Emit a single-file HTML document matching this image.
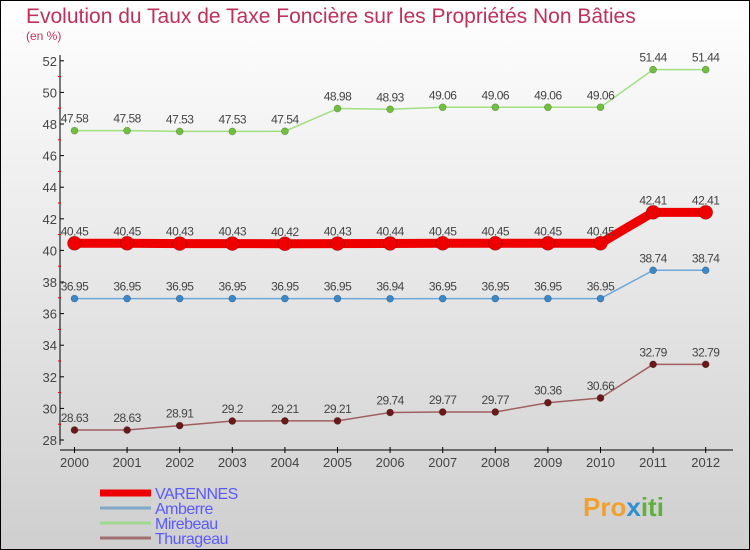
<!DOCTYPE html>
<html><head><meta charset="utf-8"><style>
body{margin:0}
#c{width:750px;height:550px;position:relative;overflow:hidden;font-family:"Liberation Sans","DejaVu Sans",sans-serif}
</style></head><body>
<div id="c">
<svg id="s" width="750" height="550" xmlns="http://www.w3.org/2000/svg">
<defs><linearGradient id="bg" x1="0" y1="0" x2="0" y2="1"><stop offset="0" stop-color="#ffffff"/><stop offset="1" stop-color="#cfcfcf"/></linearGradient></defs>
<rect x="0.5" y="0.5" width="749" height="549" fill="url(#bg)" stroke="#000"/>
<text x="26" y="23" font-size="21" fill="#c0305a">Evolution du Taux de Taxe Foncière sur les Propriétés Non Bâties</text>
<text x="26" y="40" font-size="12" fill="#c0305a">(en %)</text>
<g id="axes"></g><g id="series"></g><g id="legend"></g>
<text x="583" y="516" font-size="26" font-weight="bold" fill="#f0a030">Pro<tspan fill="#3090d0">x</tspan><tspan fill="#60b040">iti</tspan></text>
</svg></div>
<script>
const years=["2000","2001","2002","2003","2004","2005","2006","2007","2008","2009","2010","2011","2012"];
const yTicks=[28,30,32,34,36,38,40,42,44,46,48,50,52];
const varennes=[40.45,40.45,40.43,40.43,40.42,40.43,40.44,40.45,40.45,40.45,40.45,42.41,42.41];
const amberre=[36.95,36.95,36.95,36.95,36.95,36.95,36.94,36.95,36.95,36.95,36.95,38.74,38.74];
const mirebeau=[47.58,47.58,47.53,47.53,47.54,48.98,48.93,49.06,49.06,49.06,49.06,51.44,51.44];
const thurageau=[28.63,28.63,28.91,29.2,29.21,29.21,29.74,29.77,29.77,30.36,30.66,32.79,32.79];
const NS="http://www.w3.org/2000/svg";
function X(i){return 74.5+i*52.6;}
function Y(v){return 440-(v-28)*15.8;}
function mk(t,a,p){const e=document.createElementNS(NS,t);for(const k in a)e.setAttribute(k,a[k]);p.appendChild(e);return e;}
const ax=document.getElementById('axes');
let l=mk('line',{x1:60,y1:55,x2:60,y2:445,stroke:'#000'},ax);


l=mk('line',{x1:60,y1:450,x2:733,y2:450,stroke:'#000'},ax);


yTicks.forEach((t,i)=>{const y=Y(t);mk('line',{x1:60,y1:y,x2:64,y2:y,stroke:'#000'},ax);
 if(i<yTicks.length-1)mk('line',{x1:58,y1:Y(t+1),x2:61,y2:Y(t+1),stroke:'#e00'},ax);
 const tx=mk('text',{x:57,y:y+5,'text-anchor':'end','font-size':13,fill:'#444'},ax);tx.textContent=t;
 
 });
years.forEach((yr,i)=>{mk('line',{x1:X(i),y1:447,x2:X(i),y2:453,stroke:'#000'},ax);
 const tx=mk('text',{x:X(i),y:467,'text-anchor':'middle','font-size':13,fill:'#444'},ax);tx.textContent=yr;
 
 });
const sg=document.getElementById('series');
function series(name,vals,color,lw,r,dot){
 const g=mk('g',{},sg);
 
 
 mk('polyline',{points:vals.map((v,i)=>X(i)+','+Y(v)).join(' '),fill:'none',stroke:color,'stroke-width':lw,'stroke-linejoin':'round'},g);
 vals.forEach((v,i)=>{const c=mk('circle',{cx:X(i),cy:Y(v),r:r,fill:dot,stroke:'rgba(0,0,0,0.3)','stroke-width':0.6},g);
  
  
  const t=mk('text',{x:X(i),y:Y(v)-8,'text-anchor':'middle','font-size':12,fill:'#444','letter-spacing':'-0.5'},g);t.textContent=v;
  
  });
}
series('mirebeau',mirebeau,'#a0e080',1.5,3.5,'#70c040');
series('amberre',amberre,'#70a8d8',1.5,3.5,'#3a88c8');
series('thurageau',thurageau,'#a06060',1.5,3.5,'#6a1818');
series('varennes',varennes,'#ee0000',9,7,'#ee0000');
const lg=document.getElementById('legend');
const leg=[["VARENNES","#ee0000",7],["Amberre","#80a8c8",3],["Mirebeau","#a0d890",3],["Thurageau","#a07070",3]];
leg.forEach((e,i)=>{const y=493+i*15;const g=mk('g',{},lg);
 
 
 mk('line',{x1:100,y1:y,x2:151,y2:y,stroke:e[1],'stroke-width':e[2]},g);
 const t=mk('text',{x:155,y:y+6,'font-size':16,fill:'#5a5aff','letter-spacing':'-0.5'},g);t.textContent=e[0];});
</script>
</body></html>
